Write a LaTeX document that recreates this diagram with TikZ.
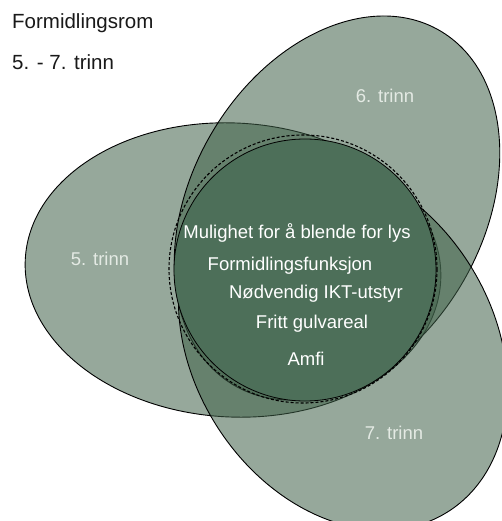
\documentclass[tikz,border=0pt]{standalone}
\usepackage{fontspec}
\setmainfont{Liberation Sans}
\usetikzlibrary{positioning}
\definecolor{venngreen}{RGB}{64,97,73}
\definecolor{coregreen}{RGB}{77,111,89}
\definecolor{labelgrey}{RGB}{228,234,228}

\begin{document}
\begin{tikzpicture}[x=1pt,y=-1pt]
  \tikzset{venn/.style={draw=black,line width=0.9pt,fill=venngreen,fill opacity=0.55}}
  \tikzset{inner/.style={text=white,font=\fontsize{18.5}{22}\selectfont,inner sep=0pt}}
  \tikzset{trinn/.style={text=labelgrey,font=\fontsize{18.5}{22}\selectfont,inner sep=0pt}}
  \tikzset{head/.style={text=black!90,font=\fontsize{20.5}{24}\selectfont,inner sep=0pt,anchor=west}}
  \useasboundingbox (0,0) rectangle (501,521);
  \fill[white] (0,0) rectangle (501,521);

  % centres of the three ellipses
  \coordinate (c5) at (233,270);
  \coordinate (c6) at (337,208);
  \coordinate (c7) at (343,345);

  \draw[venn,rotate around={-3:(c5)}] (c5) ellipse [x radius=208,y radius=147];
  \draw[venn,rotate around={60:(c6)}] (c6) ellipse [x radius=205,y radius=146];
  \draw[venn,rotate around={-58:(c7)}] (c7) ellipse [x radius=197,y radius=150];

  % shared part
  \coordinate (core) at (305,270);
  \coordinate (mid) at (303,269);
  \draw[fill=coregreen,line width=0.8pt] (core) circle [radius=131];
  \draw[line width=1.1pt,dash pattern=on 3pt off 2pt] (mid) circle [radius=134];

  \node[head] (title) at (12,23) {Formidlingsrom};
  \node[head] (grade) at (12,62) {5. - 7. trinn};

  \node[trinn] (t5) at (100,259) {5. trinn};
  \node[trinn] (t6) at (385,96) {6. trinn};
  \node[trinn] (t7) at (394,433) {7. trinn};

  \node[inner] (lys) at (297,233) {Mulighet for å blende for lys};
  \node[inner] (funk) at (290,266) {Formidlingsfunksjon};
  \node[inner] (ikt) at (316,294) {Nødvendig IKT-utstyr};
  \node[inner] (gulv) at (312,324) {Fritt gulvareal};
  \node[inner] (amfi) at (306,359) {Amfi};
\end{tikzpicture}
\end{document}
